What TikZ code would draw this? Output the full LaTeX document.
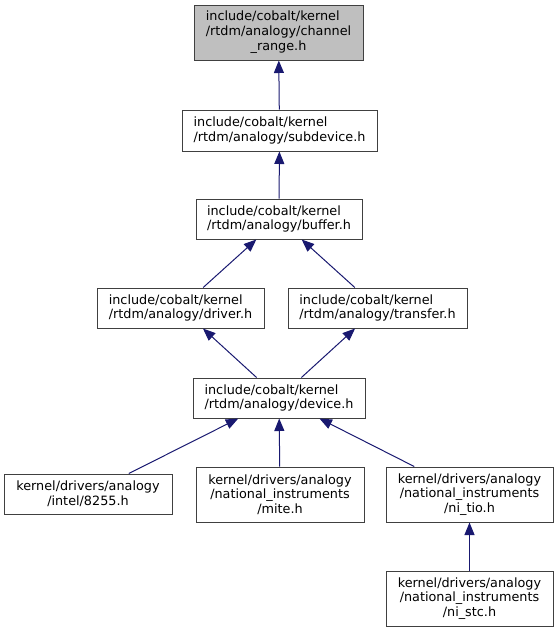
\documentclass[tikz,border=0pt]{standalone}
\usepackage{fontspec}
\setmainfont{DejaVu Sans}
\usetikzlibrary{arrows.meta}
\definecolor{edgeblue}{HTML}{191970}
\definecolor{boxline}{HTML}{404040}
\definecolor{titlefill}{HTML}{BFBFBF}
\begin{document}
\begin{tikzpicture}[x=1pt,y=-1pt,
  box/.style={draw=boxline, line width=1pt, fill=white, inner sep=0pt,
    font=\fontsize{12.8}{14.7}\selectfont, rectangle},
  dep/.style={draw=edgeblue, line width=1pt, -{Triangle[length=12.5pt,width=10pt]}}]
\useasboundingbox (0,0) rectangle (559,632);
\node[box, fill=titlefill, minimum width=169pt, minimum height=55pt] (cr) at (278.5,32.5)
  {\begin{tabular}{@{}l@{}}include/cobalt/kernel\\/rtdm/analogy/channel\\\multicolumn{1}{@{}c@{}}{\_range.h}\end{tabular}};
\node[box, align=left, minimum width=195pt, minimum height=41pt] (sub) at (279.5,130.5)
  {include/cobalt/kernel\\/rtdm/analogy/subdevice.h};
\node[box, align=left, minimum width=166pt, minimum height=40pt] (buf) at (279,219)
  {include/cobalt/kernel\\/rtdm/analogy/buffer.h};
\node[box, align=left, minimum width=167pt, minimum height=40pt] (drv) at (180.5,308)
  {include/cobalt/kernel\\/rtdm/analogy/driver.h};
\node[box, align=left, minimum width=179pt, minimum height=40pt] (trf) at (377.5,308)
  {include/cobalt/kernel\\/rtdm/analogy/transfer.h};
\node[box, align=left, minimum width=172pt, minimum height=40pt] (dev) at (279,398)
  {include/cobalt/kernel\\/rtdm/analogy/device.h};
\node[box, align=center, minimum width=168pt, minimum height=40pt] (intel) at (88,494)
  {kernel/drivers/analogy\\/intel/8255.h};
\node[box, align=center, minimum width=168pt, minimum height=55pt] (mite) at (280,494.5)
  {kernel/drivers/analogy\\/national\_instruments\\/mite.h};
\node[box, align=center, minimum width=167pt, minimum height=55pt] (tio) at (469.5,494.5)
  {kernel/drivers/analogy\\/national\_instruments\\/ni\_tio.h};
\node[box, align=center, minimum width=167pt, minimum height=55pt] (stc) at (469.5,598.5)
  {kernel/drivers/analogy\\/national\_instruments\\/ni\_stc.h};
\draw[dep] (sub) -- (cr);
\draw[dep] (buf) -- (sub);
\draw[dep] (drv) -- (buf);
\draw[dep] (trf) -- (buf);
\draw[dep] (dev) -- (drv);
\draw[dep] (dev) -- (trf);
\draw[dep] (intel) -- (dev);
\draw[dep] (mite) -- (dev);
\draw[dep] (tio) -- (dev);
\draw[dep] (stc) -- (tio);
\end{tikzpicture}
\end{document}
